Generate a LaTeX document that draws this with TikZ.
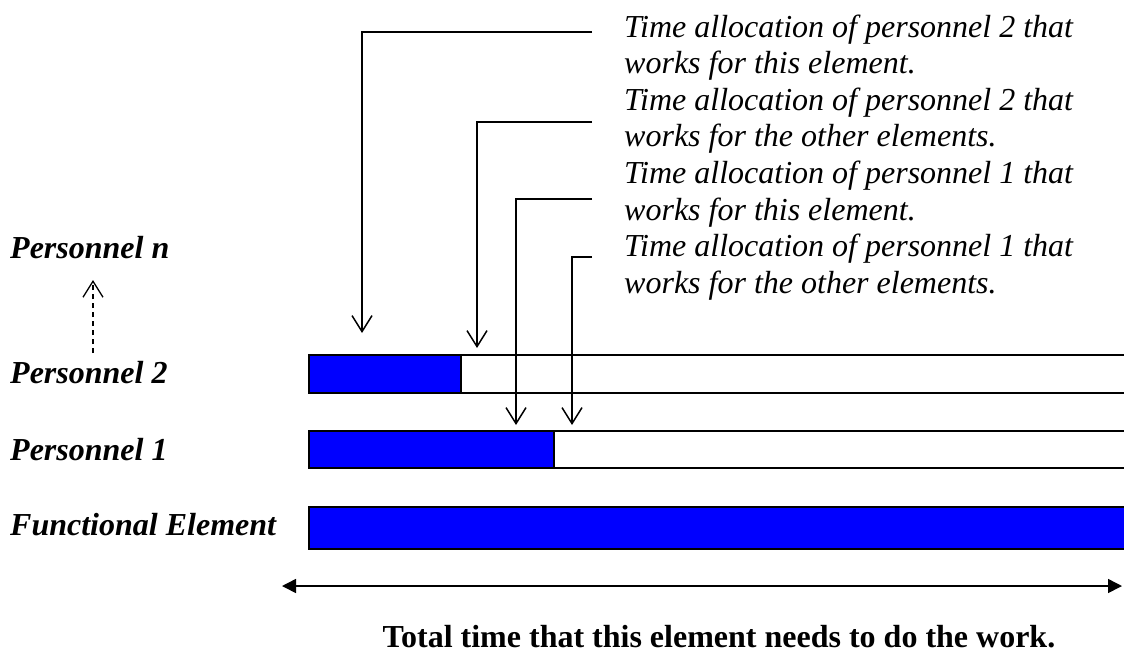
\documentclass[tikz,border=0pt]{standalone}
\usepackage{fontspec}
\setmainfont{Liberation Serif}
\usetikzlibrary{arrows.meta}
\definecolor{barblue}{RGB}{0,0,255}
\begin{document}
\begin{tikzpicture}[x=1pt,y=-1pt,
  lbl/.style={font=\fontsize{32}{36}\selectfont\bfseries\itshape, anchor=base west, inner sep=0pt},
  note/.style={font=\fontsize{32}{36}\selectfont\itshape, anchor=base west, inner sep=0pt},
  total/.style={font=\fontsize{32}{36}\selectfont\bfseries, anchor=base, inner sep=0pt},
  bar/.style={draw=black, line width=2.2pt, rectangle, inner sep=0pt, anchor=north west},
  used/.style={bar, fill=barblue},
  callout/.style={line width=1.5pt, -{Straight Barb[length=16pt,width=20pt,line width=1.5pt]}},
  span/.style={line width=1.5pt, {Triangle[length=14pt,width=14pt]}-{Triangle[length=14pt,width=14pt]}}]
\useasboundingbox (0,0) rectangle (1124,654);
\begin{scope}
\clip (0,0) rectangle (1124,654);
% bars
\node[bar, minimum width=840pt, minimum height=38pt] (p2bar) at (308,354) {};
\node[used, minimum width=152pt, minimum height=38pt] (p2used) at (308,354) {};
\node[bar, minimum width=840pt, minimum height=37pt] (p1bar) at (308,430) {};
\node[used, minimum width=245pt, minimum height=37pt] (p1used) at (308,430) {};
\node[used, minimum width=840pt, minimum height=42pt] (febar) at (308,506) {};
\end{scope}

% left labels
\node[lbl] (pn) at (10,258) {Personnel n};
\node[lbl] (p2) at (10,383) {Personnel 2};
\node[lbl] (p1) at (10,460) {Personnel 1};
\node[lbl] (fe) at (10,535) {Functional Element};

\coordinate (dlo) at (93,353);
\coordinate (dhi) at (93,280);
\draw[line width=1.3pt, dash pattern=on 5pt off 4pt, -{Straight Barb[length=16pt,width=20pt,line width=1.3pt]}] (dlo) -- (dhi);

% notes
\node[note] (n1a) at (624,37.0) {Time allocation of personnel 2 that};
\node[note] (n1b) at (624,73.6) {works for this element.};
\node[note] (n2a) at (624,110.2) {Time allocation of personnel 2 that};
\node[note] (n2b) at (624,146.8) {works for the other elements.};
\node[note] (n3a) at (624,183.4) {Time allocation of personnel 1 that};
\node[note] (n3b) at (624,220.0) {works for this element.};
\node[note] (n4a) at (624,256.6) {Time allocation of personnel 1 that};
\node[note] (n4b) at (624,293.2) {works for the other elements.};

% callouts
\coordinate (s1) at (592,32);  \coordinate (e1) at (362,333);
\coordinate (s2) at (592,122); \coordinate (e2) at (477,348);
\coordinate (s3) at (592,199); \coordinate (e3) at (516,425);
\coordinate (s4) at (592,257); \coordinate (e4) at (572,425);
\draw[callout] (s1) -| (e1);
\draw[callout] (s2) -| (e2);
\draw[callout] (s3) -| (e3);
\draw[callout] (s4) -| (e4);

% total span
\coordinate (tl) at (282,586);
\coordinate (tr) at (1122,586);
\draw[span] (tl) -- (tr);
\node[total] (tt) at (719,647) {Total time that this element needs to do the work.};
\end{tikzpicture}
\end{document}
